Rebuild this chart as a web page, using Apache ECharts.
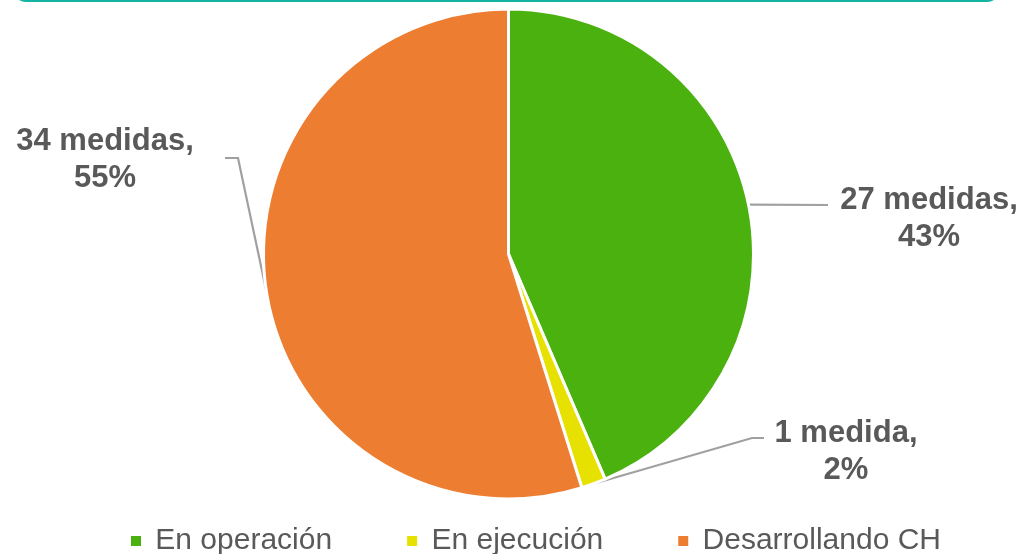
<!DOCTYPE html>
<html>
<head>
<meta charset="utf-8">
<script src="https://cdn.jsdelivr.net/npm/echarts@6/dist/echarts.min.js"></script>
<style>
html,body{margin:0;padding:0;background:#fff;}
#chart{width:1022px;height:554px;}
</style>
</head>
<body>
<div id="chart"></div>
<script>
// ---- data ----
const categories = ['En operación', 'En ejecución', 'Desarrollando CH'];
const values = [27, 1, 34];
const unitSingular = 'medida';
const unitPlural = 'medidas';
const colors = ['#4BB10F', '#E6E100', '#ED7D31'];

// ---- layout (label anchors & leader-line bends, pixels) ----
const labelAnchors = [
  { x: 929, y: 219, line: [[828, 205]] },
  { x: 846, y: 452, line: [[752, 438], [764, 438]] },
  { x: 105, y: 160, line: [[238, 158], [225, 158]] }
];

const FONT = '"Liberation Sans", Arial, Helvetica, sans-serif';
const chart = echarts.init(document.getElementById('chart'), null, { renderer: 'canvas' });

const seriesData = categories.map((c, i) => ({ name: c, value: values[i], itemStyle: { color: colors[i] } }));

chart.setOption({
  animation: false,
  backgroundColor: '#ffffff',
  graphic: [{
    type: 'rect',
    shape: { x: 14, y: -61, width: 985, height: 62, r: 12 },
    style: { fill: 'none', stroke: '#14B4A2', lineWidth: 2 },
    silent: true
  }],
  legend: {
    data: categories,
    left: 124,
    top: 521,
    orient: 'horizontal',
    icon: 'rect',
    itemWidth: 12,
    itemHeight: 12,
    itemGap: 73,
    formatter: n => ' ' + n,
    textStyle: { fontFamily: FONT, fontSize: 30, color: '#595959' }
  },
  series: [{
    type: 'pie',
    center: [508.5, 254],
    radius: [0, 245],
    startAngle: 90,
    clockwise: true,
    percentPrecision: 0,
    avoidLabelOverlap: false,
    itemStyle: { borderColor: '#ffffff', borderWidth: 3 },
    label: {
      show: true,
      position: 'outside',
      width: 260,
      overflow: 'none',
      fontFamily: FONT,
      fontSize: 31,
      fontWeight: 'bold',
      lineHeight: 37,
      color: '#595959',
      align: 'center',
      formatter: p => p.value + ' ' + (p.value === 1 ? unitSingular : unitPlural) + ',\n' + p.percent + '%'
    },
    labelLine: {
      show: true,
      length: 20,
      length2: 20,
      smooth: false,
      lineStyle: { color: '#A0A0A0', width: 2.2 }
    },
    labelLayout: function (p) {
      const a = labelAnchors[p.dataIndex];
      const out = { x: a.x, y: a.y, align: 'center', verticalAlign: 'middle' };
      if (p.labelLinePoints && p.labelLinePoints.length) {
        out.labelLinePoints = [p.labelLinePoints[0]].concat(a.line);
        if (out.labelLinePoints.length === 2) out.labelLinePoints.push(a.line[0]);
      }
      return out;
    },
    emphasis: { disabled: true },
    data: seriesData
  }]
});
</script>
</body>
</html>
